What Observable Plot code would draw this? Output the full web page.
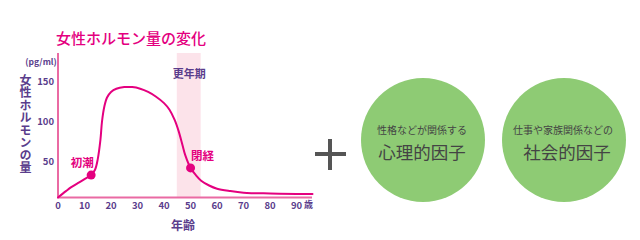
<!DOCTYPE html>
<html>
<head>
<meta charset="utf-8">
<script src="https://cdn.jsdelivr.net/npm/d3@7"></script>
<script src="https://cdn.jsdelivr.net/npm/@observablehq/plot@0.6"></script>
<style>
  html, body { margin: 0; padding: 0; background: #fff; }
  #wrap { position: relative; width: 640px; height: 240px; overflow: hidden;
          font-family: "Noto Sans CJK JP", "Noto Sans", sans-serif; }
  #wrap svg { position: absolute; left: 0; top: 0; }
  .abs { position: absolute; transform: translate(-50%, -50%); white-space: nowrap; line-height: 1; }
  .circle { position: absolute; border-radius: 50%; background: #8ecb74; }
</style>
</head>
<body>
<div id="wrap"></div>
<script>
// ---- data ----
const title = "女性ホルモン量の変化";
const yTitle = "女性ホルモンの量";
const unitLabel = "(pg/ml)";
const xTitle = "年齢";
const xTicks = [0, 10, 20, 30, 40, 50, 60, 70, 80, 90];
const yTicks = [50, 100, 150];
const ages   = [0, 3, 5, 8, 10, 12.5, 14, 15, 16, 16.6, 17.5, 18.5, 20, 22, 25, 28, 31, 34, 37, 40, 42, 44, 45.5, 47, 48, 50, 52, 54, 57, 60, 65, 70, 80, 90, 96];
const levels = [0, 8, 13, 19, 23, 28, 35, 48, 72, 95, 114, 125, 132, 136, 138, 138, 136, 132, 126, 118, 110, 97, 83, 65, 53, 37, 28, 21, 15, 11, 8, 6, 5, 4.5, 4.5];
const eventNames  = ["初潮", "閉経"];
const eventAges   = [12.5, 50];
const eventLevels = [28, 37];
const menopauseBand = [45, 54];
const menopauseLabel = "更年期";
const factorLead = ["性格などが関係する", "仕事や家族関係などの"];
const factorName = ["心理的因子", "社会的因子"];

const pink = "#e4007f";
const axisPink = "#ea6aa3";
const purple = "#5a3d8c";

const curve = ages.map((a, i) => ({age: a, level: levels[i]}));
const events = eventNames.map((n, i) => ({name: n, age: eventAges[i], level: eventLevels[i]}));

const chart = Plot.plot({
  width: 330, height: 240,
  marginLeft: 57.5, marginRight: 18, marginTop: 53, marginBottom: 43,
  x: {domain: [0, 96]},
  y: {domain: [0, 180]},
  style: {fontFamily: "'Noto Sans CJK JP', 'Noto Sans', sans-serif", background: "transparent"},
  marks: [
    Plot.rect([{x1: menopauseBand[0], x2: menopauseBand[1]}], {x1: "x1", x2: "x2", y1: 0, y2: 180, fill: "#fce3ea"}),
    Plot.ruleX([0], {stroke: axisPink, strokeWidth: 2}),
    Plot.ruleY([0], {stroke: axisPink, strokeWidth: 2}),
    Plot.axisX({ticks: xTicks, tickSize: 0, tickPadding: 5, label: null, fill: purple, fontSize: 9.5, fontWeight: "600"}),
    Plot.axisY({ticks: yTicks, tickSize: 0, tickPadding: 4, label: null, fill: purple, fontSize: 9.5, fontWeight: "600", dy: 4}),
    Plot.text(["歳"], {x: () => xTicks[xTicks.length - 1], frameAnchor: "bottom", dx: 12, dy: 10, fill: purple, fontSize: 9, fontWeight: "bold"}),
    Plot.line(curve, {x: "age", y: "level", stroke: pink, strokeWidth: 2, curve: "catmull-rom"}),
    Plot.dot(events, {x: "age", y: "level", r: 4.5, fill: pink}),
    Plot.text(events.slice(0, 1), {x: "age", y: "level", text: "name", dx: -9, dy: -12, fill: pink, fontSize: 11.5, fontWeight: "bold"}),
    Plot.text(events.slice(1, 2), {x: "age", y: "level", text: "name", dx: 12, dy: -12, fill: pink, fontSize: 11.5, fontWeight: "bold"}),
    Plot.text([menopauseLabel], {x: () => (menopauseBand[0] + menopauseBand[1]) / 2, frameAnchor: "top", dy: 17, fill: purple, fontSize: 11, fontWeight: "bold"})
  ]
});

const wrap = document.getElementById("wrap");
wrap.appendChild(chart);

function addText(txt, cx, cy, css) {
  const d = document.createElement("div");
  d.className = "abs";
  d.textContent = txt;
  d.style.left = cx + "px";
  d.style.top = cy + "px";
  Object.assign(d.style, css);
  wrap.appendChild(d);
  return d;
}

addText(title, 131, 37, {fontSize: "15px", color: pink, fontWeight: "500"});
addText(unitLabel, 41, 61, {fontSize: "8.5px", color: purple, fontWeight: "bold"});
addText(yTitle, 25, 124, {fontSize: "12px", color: purple, fontWeight: "bold", writingMode: "vertical-rl", letterSpacing: "0.5px"});
addText(xTitle, 183, 225, {fontSize: "12px", color: purple, fontWeight: "bold"});

// plus sign
const plusColor = "#555";
const h = document.createElement("div");
Object.assign(h.style, {position: "absolute", left: "315px", top: "152px", width: "31px", height: "4px", background: plusColor});
wrap.appendChild(h);
const v = document.createElement("div");
Object.assign(v.style, {position: "absolute", left: "328px", top: "138.5px", width: "4px", height: "31px", background: plusColor});
wrap.appendChild(v);

// factor circles
const circleCenters = [423, 564];
factorName.forEach((name, i) => {
  const c = document.createElement("div");
  c.className = "circle";
  Object.assign(c.style, {left: (circleCenters[i] - 62) + "px", top: "78px", width: "124px", height: "124px"});
  wrap.appendChild(c);
  addText(factorLead[i], circleCenters[i] - 1, 129.5, {fontSize: "10px", color: "#444"});
  addText(name, circleCenters[i] + (i === 0 ? -1 : 3), 152, {fontSize: "17.5px", color: "#444"});
});
</script>
</body>
</html>
